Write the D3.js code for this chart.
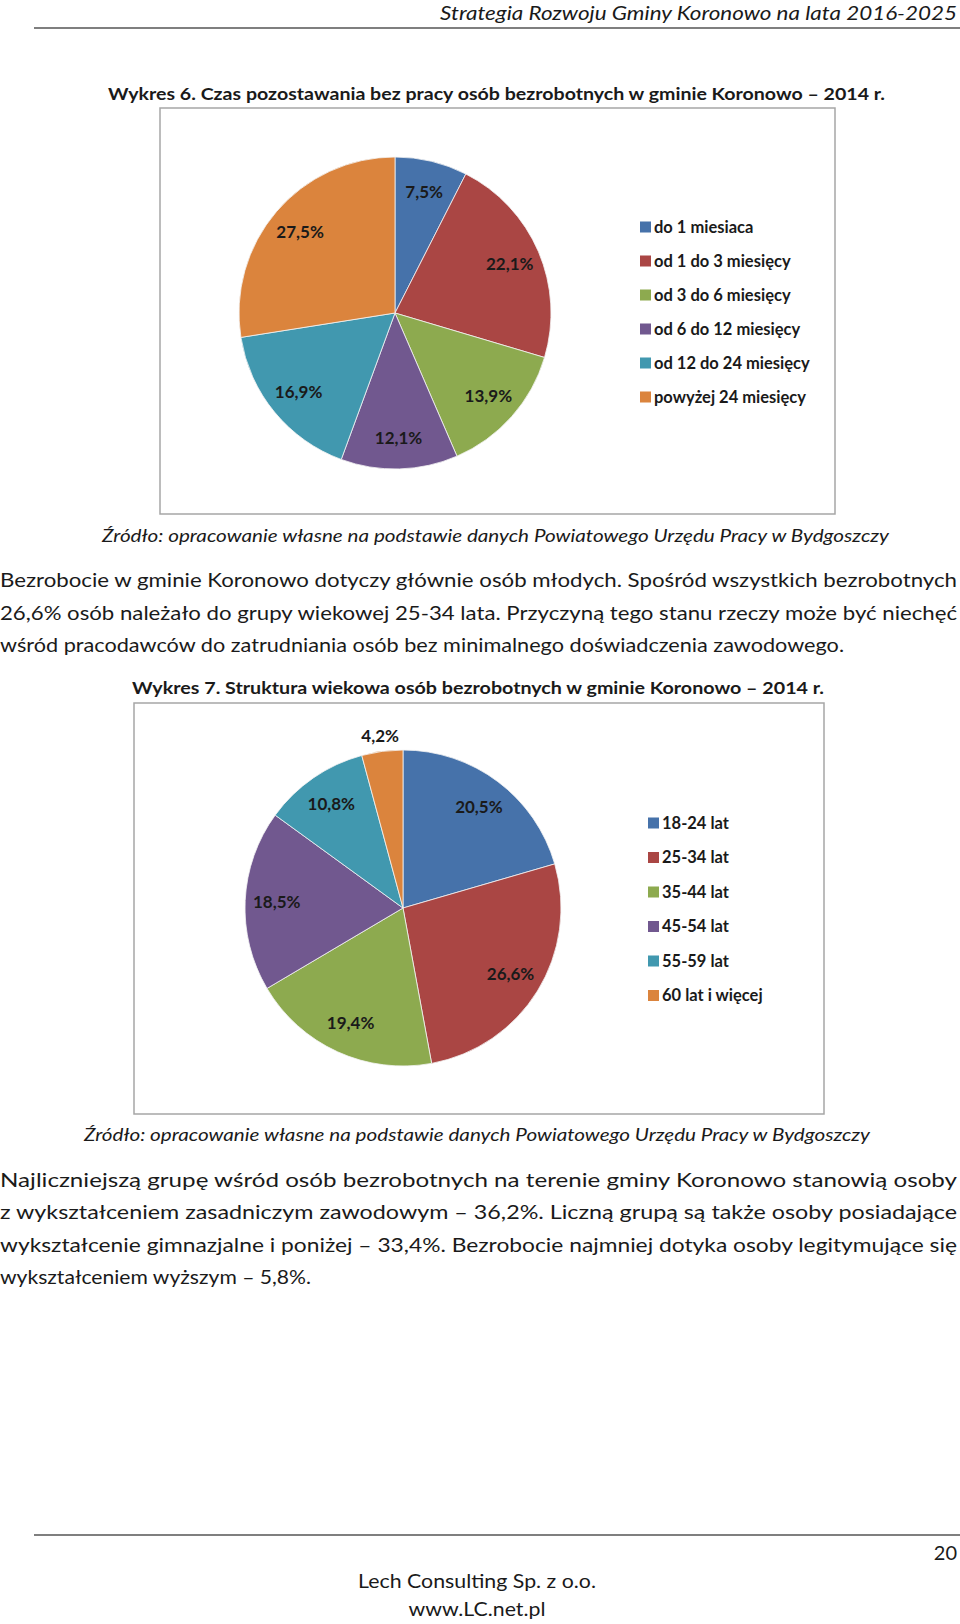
<!DOCTYPE html>
<html>
<head>
<meta charset="utf-8">
<script src="https://cdn.jsdelivr.net/npm/d3@7"></script>
<style>
  body { margin: 0; background: #fff; }
  text { font-family: Lato, "Open Sans", sans-serif; fill: #1a1a1a; }
</style>
</head>
<body>
<svg id="page"></svg>
<script>
// data
var durationLabels = ["do 1 miesiaca", "od 1 do 3 miesięcy", "od 3 do 6 miesięcy",
                      "od 6 do 12 miesięcy", "od 12 do 24 miesięcy", "powyżej 24 miesięcy"];
var durationValues = [7.5, 22.1, 13.9, 12.1, 16.9, 27.5];

var ageLabels = ["18-24 lat", "25-34 lat", "35-44 lat", "45-54 lat", "55-59 lat", "60 lat i więcej"];
var ageValues = [20.5, 26.6, 19.4, 18.5, 10.8, 4.2];

var sliceColors = ["#4672aa", "#aa4644", "#8daa4f", "#71588f", "#4198af", "#db843d"];

var para1 = [
    "Bezrobocie w gminie Koronowo dotyczy głównie osób młodych. Spośród wszystkich bezrobotnych",
    "26,6% osób należało do grupy wiekowej 25-34 lata. Przyczyną tego stanu rzeczy może być niechęć",
    "wśród pracodawców do zatrudniania osób bez minimalnego doświadczenia zawodowego."
];
var para2 = [
    "Najliczniejszą grupę wśród osób bezrobotnych na terenie gminy Koronowo stanowią osoby",
    "z wykształceniem zasadniczym zawodowym – 36,2%. Liczną grupą są także osoby posiadające",
    "wykształcenie gimnazjalne i poniżej – 33,4%. Bezrobocie najmniej dotyka osoby legitymujące się",
    "wykształceniem wyższym – 5,8%."
];
var sourceText = "Źródło: opracowanie własne na podstawie danych Powiatowego Urzędu Pracy w Bydgoszczy";

var width = 960,
    height = 1624;

var svg = d3.select("#page")
    .attr("width", width)
    .attr("height", height);

var pl = d3.formatLocale({decimal: ",", thousands: " ", grouping: [3], currency: ["", " zł"]});
var pct = pl.format(".1f");

// small helper for all page text
function addText(x, y, str, o){
    o = o || {};
    var t = svg.append("text")
        .attr("x", x)
        .attr("y", y)
        .attr("dy", "0.35em")
        .attr("text-anchor", o.anchor || "start")
        .style("font-size", (o.size || 19) + "px")
        .style("font-weight", o.weight || "normal")
        .style("font-style", o.style || "normal")
        .text(str);
    if(o.len){
        t.attr("textLength", o.len).attr("lengthAdjust", "spacingAndGlyphs");
    }
    return t;
}

// header and footer
addText(957, 13, "Strategia Rozwoju Gminy Koronowo na lata 2016-2025", {anchor: "end", size: 20, style: "italic", len: 517});
svg.append("line").attr("x1", 34).attr("x2", 960).attr("y1", 28).attr("y2", 28)
    .attr("stroke", "#555").attr("stroke-width", 1.5);
svg.append("line").attr("x1", 34).attr("x2", 960).attr("y1", 1535).attr("y2", 1535)
    .attr("stroke", "#555").attr("stroke-width", 1.5);
addText(957, 1553, "20", {anchor: "end", size: 20});
addText(477, 1581, "Lech Consulting Sp. z o.o.", {anchor: "middle", size: 20, len: 238});
addText(477, 1609, "www.LC.net.pl", {anchor: "middle", size: 20, len: 137});

// titles, sources and paragraphs
addText(108, 94, "Wykres 6. Czas pozostawania bez pracy osób bezrobotnych w gminie Koronowo – 2014 r.", {size: 17, weight: "bold", len: 777});
addText(102, 536, sourceText, {size: 18, style: "italic", len: 787});
addText(132, 688, "Wykres 7. Struktura wiekowa osób bezrobotnych w gminie Koronowo – 2014 r.", {size: 17, weight: "bold", len: 692});
addText(84, 1135, sourceText, {size: 18, style: "italic", len: 786});

para1.forEach(function(line, i){
    var last = (i == para1.length - 1);
    addText(0, 580 + i*32.5, line, {size: 20, len: last ? 844 : 957});
});
para2.forEach(function(line, i){
    var last = (i == para2.length - 1);
    addText(0, 1180 + i*32.3, line, {size: 20, len: last ? 311 : 957});
});

function drawPie(cfg, values, labels){
    var g = svg.append("g");

    g.append("rect")
        .attr("x", cfg.box[0]).attr("y", cfg.box[1])
        .attr("width", cfg.box[2]).attr("height", cfg.box[3])
        .attr("fill", "#fff")
        .attr("stroke", "#a6a6a6")
        .attr("stroke-width", 1.5);

    var pie = d3.pie().sort(null).value(function(d){ return d; });
    var arc = d3.arc().innerRadius(0).outerRadius(cfg.r);
    var labelArc = d3.arc().innerRadius(cfg.r*0.8).outerRadius(cfg.r*0.8);
    var outerArc = d3.arc().innerRadius(cfg.r*1.1).outerRadius(cfg.r*1.1);

    var slices = pie(values);
    var pg = g.append("g").attr("transform", "translate(" + cfg.cx + "," + cfg.cy + ")");

    pg.selectAll(".slice")
        .data(slices)
        .enter().append("path")
        .attr("class", "slice")
        .attr("d", arc)
        .attr("fill", function(d, i){ return sliceColors[i]; })
        .attr("stroke", "#f4f4f4")
        .attr("stroke-width", 0.8);

    pg.selectAll(".lbl")
        .data(slices)
        .enter().append("text")
        .attr("class", "lbl")
        .attr("transform", function(d){
            // too small a slice: label goes outside
            var c = (d.data < 5) ? outerArc.centroid(d) : labelArc.centroid(d);
            return "translate(" + c[0] + "," + c[1] + ")";
        })
        .attr("dy", "0.35em")
        .attr("text-anchor", "middle")
        .style("font-size", "17px")
        .style("font-weight", "bold")
        .text(function(d){ return pct(d.data) + "%"; });

    var ly = d3.scaleLinear().domain([0, 1]).range([cfg.legendY, cfg.legendY + cfg.legendStep]);
    var lg = g.selectAll(".legend")
        .data(labels)
        .enter().append("g")
        .attr("class", "legend")
        .attr("transform", function(d, i){ return "translate(" + cfg.legendX + "," + ly(i) + ")"; });

    lg.append("rect")
        .attr("x", 0).attr("y", -5.5)
        .attr("width", 11).attr("height", 11)
        .attr("fill", function(d, i){ return sliceColors[i]; });

    lg.append("text")
        .attr("x", 14)
        .attr("dy", "0.35em")
        .style("font-size", "16.5px")
        .style("font-weight", "bold")
        .text(function(d){ return d; });
}

drawPie({box: [160, 108, 675, 406], cx: 395, cy: 313, r: 156,
         legendX: 640, legendY: 227, legendStep: 34}, durationValues, durationLabels);

drawPie({box: [134, 703, 690, 411], cx: 403, cy: 908, r: 158,
         legendX: 648, legendY: 823, legendStep: 34.5}, ageValues, ageLabels);
</script>
</body>
</html>
